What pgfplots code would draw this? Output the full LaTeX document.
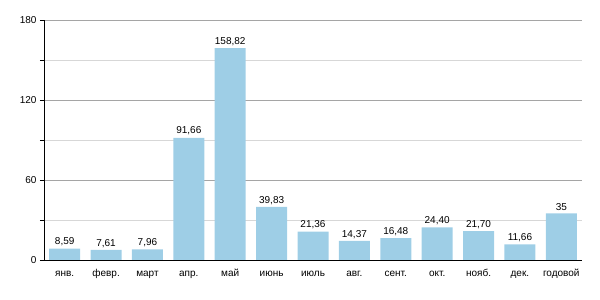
\documentclass[border=0pt]{standalone}
\usepackage{pgfplots}
\pgfplotsset{compat=1.18}
\usepackage{pgfplotstable}
\usepackage{fontspec}
\setmainfont{Liberation Sans}
\definecolor{barblue}{RGB}{158,206,230}
\definecolor{majgrid}{RGB}{165,165,165}
\definecolor{mingrid}{RGB}{215,215,215}
\pgfplotstableread[col sep=comma]{
x,y,lab
0,8.59,{8,59}
1,7.61,{7,61}
2,7.96,{7,96}
3,91.66,{91,66}
4,158.82,{158,82}
5,39.83,{39,83}
6,21.36,{21,36}
7,14.37,{14,37}
8,16.48,{16,48}
9,24.40,{24,40}
10,21.70,{21,70}
11,11.66,{11,66}
12,35,{35}
}\data
\begin{document}
\begin{tikzpicture}
\path[use as bounding box] (0,0) rectangle (600pt,300pt);
\begin{axis}[
  at={(44pt,40pt)}, anchor=south west,
  scale only axis, width=538pt, height=240pt,
  xmin=-0.5, xmax=12.5, ymin=0, ymax=180,
  axis x line*=bottom, axis y line*=left,
  axis line style={black, line width=0.8pt, -},
  xtick=data,
  xticklabels={янв.,февр.,март,апр.,май,июнь,июль,авг.,сент.,окт.,нояб.,дек.,годовой},
  x tick style={draw=none},
  ytick={0,60,120,180}, minor ytick={30,90,150},
  ymajorgrids, yminorgrids,
  major grid style={majgrid, line width=0.8pt},
  minor grid style={mingrid, line width=0.8pt},
  y tick style={black, line width=0.6pt},
  tick align=outside, major tick length=4pt, minor tick length=4pt,
  tick label style={font=\fontsize{10}{11}\selectfont},
  xticklabel style={text height=0.75em, text depth=0.25em, inner sep=0pt, yshift=-4.5pt},
  /pgf/number format/assume math mode=true,
  ybar, bar width=31pt,
  nodes near coords,
  point meta=explicit symbolic,
  every node near coord/.append style={font=\fontsize{10}{11}\selectfont, text=black, yshift=-1pt},
]
\addplot[fill=barblue, draw=none] table[x=x, y=y, meta=lab] {\data};
\end{axis}
\end{tikzpicture}
\end{document}
